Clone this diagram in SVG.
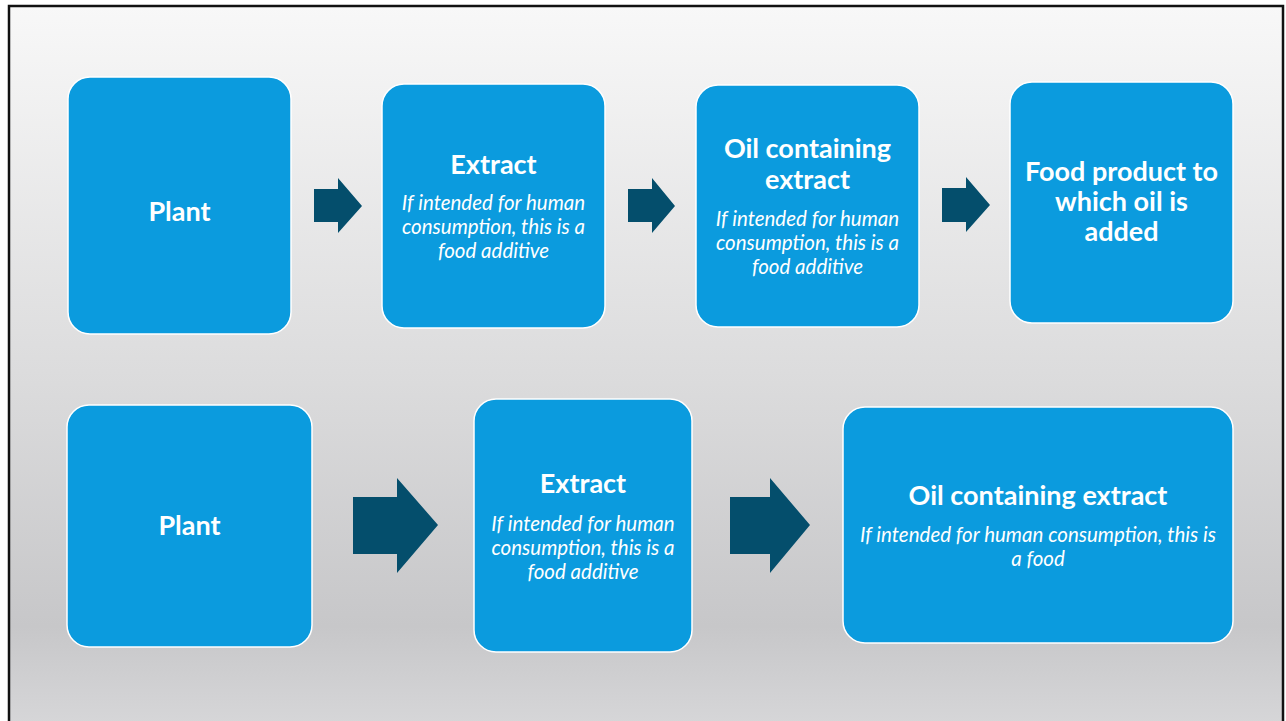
<svg xmlns="http://www.w3.org/2000/svg" width="1286" height="721" viewBox="0 0 1286 721">
<defs>
<linearGradient id="bg" x1="0" y1="0" x2="0" y2="1">
<stop offset="0" stop-color="#f8f8f8"/>
<stop offset="0.5" stop-color="#dcdcdd"/>
<stop offset="0.85" stop-color="#c7c7c9"/>
<stop offset="1" stop-color="#d8d8da"/>
</linearGradient>
<style>
.box{fill:#0b9bde;stroke:#ffffff;stroke-width:1.5}
.arr{fill:#044e6c}
.t{font-family:Lato,"Open Sans",sans-serif;font-weight:bold;font-size:27px;fill:#fff;text-anchor:middle}
.i{font-family:Lato,"Open Sans",sans-serif;font-style:italic;font-size:20.5px;fill:#fff;text-anchor:middle}
</style>
</defs>
<rect x="0" y="0" width="1286" height="721" fill="#ffffff"/>
<rect x="9" y="6" width="1274" height="730" fill="url(#bg)" stroke="#111" stroke-width="2.5"/>
<g id="connectors">
<polygon class="arr" points="314,189 338,189 338,178 362,206 338,233 338,222 314,222"/>
<polygon class="arr" points="628,189 652,189 652,178 675,206 652,233 652,222 628,222"/>
<polygon class="arr" points="942,188 966,188 966,177 990,205 966,232 966,222 942,222"/>
<polygon class="arr" points="353,497 397,497 397,478 438,525 397,573 397,554 353,554"/>
<polygon class="arr" points="730,497 770,497 770,478 810,525 770,573 770,554 730,554"/>
</g>
<g id="plant1">
<rect class="box" x="68" y="77" width="223" height="257" rx="22"/>
<text class="t" x="179.5" y="221">Plant</text>
</g>
<g id="extract1">
<rect class="box" x="382" y="84" width="223" height="244" rx="22"/>
<text class="t" x="493.5" y="174">Extract</text>
<text class="i" x="493.5" y="210">If intended for human</text>
<text class="i" x="493.5" y="234">consumption, this is a</text>
<text class="i" x="493.5" y="258">food additive</text>
</g>
<g id="oil1">
<rect class="box" x="696" y="85" width="223" height="242" rx="22"/>
<text class="t" x="807.5" y="158">Oil containing</text>
<text class="t" x="807.5" y="189">extract</text>
<text class="i" x="807.5" y="226">If intended for human</text>
<text class="i" x="807.5" y="250">consumption, this is a</text>
<text class="i" x="807.5" y="274">food additive</text>
</g>
<g id="food1">
<rect class="box" x="1010" y="82" width="223" height="241" rx="22"/>
<text class="t" x="1121.5" y="181">Food product to</text>
<text class="t" x="1121.5" y="211">which oil is</text>
<text class="t" x="1121.5" y="241">added</text>
</g>
<g id="plant2">
<rect class="box" x="67" y="405" width="245" height="242" rx="22"/>
<text class="t" x="189.5" y="535">Plant</text>
</g>
<g id="extract2">
<rect class="box" x="474" y="399" width="218" height="253" rx="22"/>
<text class="t" x="583" y="493">Extract</text>
<text class="i" x="583" y="531">If intended for human</text>
<text class="i" x="583" y="555">consumption, this is a</text>
<text class="i" x="583" y="579">food additive</text>
</g>
<g id="oil2">
<rect class="box" x="843" y="407" width="390" height="236" rx="22"/>
<text class="t" x="1038" y="505">Oil containing extract</text>
<text class="i" x="1038" y="542">If intended for human consumption, this is</text>
<text class="i" x="1038" y="566">a food</text>
</g>
</svg>
